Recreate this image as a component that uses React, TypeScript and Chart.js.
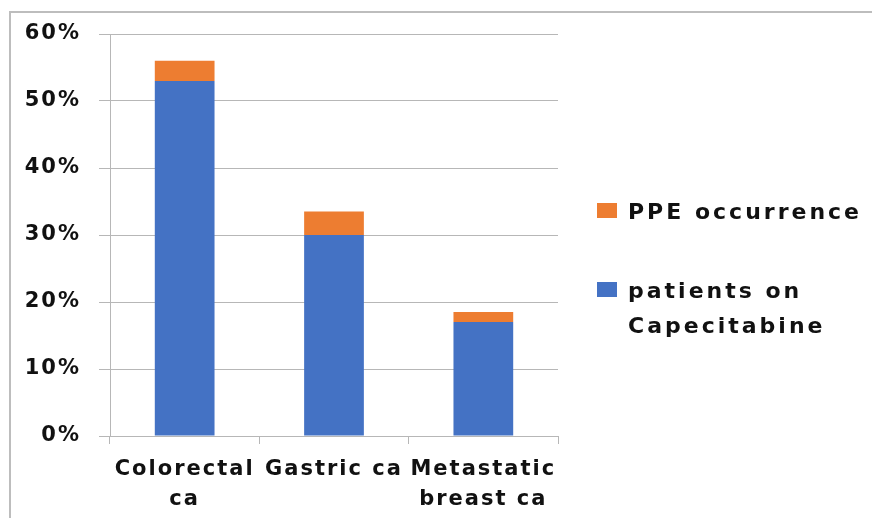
import React, { useEffect, useRef } from "react";
import { Chart, registerables } from "chart.js";

Chart.register(...registerables);

const categories: string[][] = [["Colorectal", "ca"], ["Gastric ca"], ["Metastatic", "breast ca"]];
const patientsOnCapecitabine: number[] = [53, 30, 17];
const ppeOccurrence: number[] = [3, 3.5, 1.5];
const yTickValues: number[] = [0, 10, 20, 30, 40, 50, 60];
const seriesPatients = "patients on Capecitabine";
const seriesPPE = "PPE occurrence";
const legendPatientsLines: string[] = ["patients on", "Capecitabine"];
const legendPPELines: string[] = ["PPE occurrence"];

const BLUE = "#4472C4";
const ORANGE = "#ED7D31";
const GRID = "#b7b7b7";
const FRAME = "#bdbdbd";
const FONT_FAMILY = '"DejaVu Sans", sans-serif';
const SPACING = "2px";

const framePlugin = {
  id: "frameAndSpacing",
  beforeDraw(chart: any) {
    const ctx = chart.ctx as CanvasRenderingContext2D;
    ctx.save();
    ctx.strokeStyle = FRAME;
    ctx.lineWidth = 2;
    ctx.beginPath();
    ctx.moveTo(10, chart.height);
    ctx.lineTo(10, 12);
    ctx.lineTo(chart.width, 12);
    ctx.stroke();
    ctx.restore();
    (ctx as any).letterSpacing = SPACING;
  },
};

const legendPlugin = {
  id: "customLegend",
  afterDraw(chart: any) {
    const ctx = chart.ctx as CanvasRenderingContext2D;
    const area = chart.chartArea;
    ctx.save();
    (ctx as any).letterSpacing = "3px";
    ctx.font = `bold 22px ${FONT_FAMILY}`;
    ctx.textBaseline = "middle";
    ctx.textAlign = "left";
    const x0 = area.right + 39;
    const items = [
      { color: ORANGE, lines: legendPPELines, y: area.top + 177 },
      { color: BLUE, lines: legendPatientsLines, y: area.top + 256 },
    ];
    for (const it of items) {
      ctx.fillStyle = it.color;
      ctx.fillRect(x0, it.y - 8, 20, 15);
      ctx.fillStyle = "#111";
      it.lines.forEach((ln, i) => {
        ctx.fillText(ln, x0 + 31, it.y + 2 + i * 35);
      });
    }
    ctx.restore();
  },
};

export default function App() {
  const ref = useRef<HTMLCanvasElement | null>(null);
  useEffect(() => {
    if (!ref.current) return;
    const chart = new Chart(ref.current, {
      type: "bar",
      data: {
        labels: categories as any,
        datasets: [
          { label: seriesPatients, data: patientsOnCapecitabine, backgroundColor: BLUE, categoryPercentage: 0.8, barPercentage: 0.5 },
          { label: seriesPPE, data: ppeOccurrence, backgroundColor: ORANGE, categoryPercentage: 0.8, barPercentage: 0.5 },
        ],
      },
      options: {
        animation: false,
        responsive: false,
        devicePixelRatio: 1,
        layout: { padding: { left: 0, top: 34, right: 314, bottom: 0 } },
        plugins: { legend: { display: false }, tooltip: { enabled: false } },
        scales: {
          x: {
            stacked: true,
            offset: true,
            grid: { display: true, drawOnChartArea: false, drawTicks: true, tickLength: 8, color: GRID, offset: true },
            border: { display: true, color: GRID },
            ticks: {
              color: "#111",
              font: { family: FONT_FAMILY, weight: "bold", size: 21, lineHeight: 1.45 },
              padding: 10,
              maxRotation: 0,
              autoSkip: false,
            },
            afterFit: (scale: any) => { scale.height = 82; },
          },
          y: {
            stacked: true,
            min: yTickValues[0],
            max: yTickValues[yTickValues.length - 1],
            afterBuildTicks: (scale: any) => { scale.ticks = yTickValues.map((v) => ({ value: v })); },
            grid: { color: GRID, tickLength: 11, drawTicks: true },
            border: { display: true, color: GRID },
            ticks: {
              color: "#111",
              font: { family: FONT_FAMILY, weight: "bold", size: 21 },
              padding: 18,
              callback: (v: any) => `${v}%`,
            },
            afterFit: (scale: any) => { scale.width = 110; },
          },
        },
      },
      plugins: [framePlugin, legendPlugin],
    });
    return () => chart.destroy();
  }, []);
  return (
    <div style={{ position: "fixed", left: 0, top: 0, width: 872, height: 518, overflow: "hidden", background: "#fff" }}>
      <canvas ref={ref} width={872} height={518} style={{ position: "absolute", left: 0, top: 0 }} />
    </div>
  );
}
